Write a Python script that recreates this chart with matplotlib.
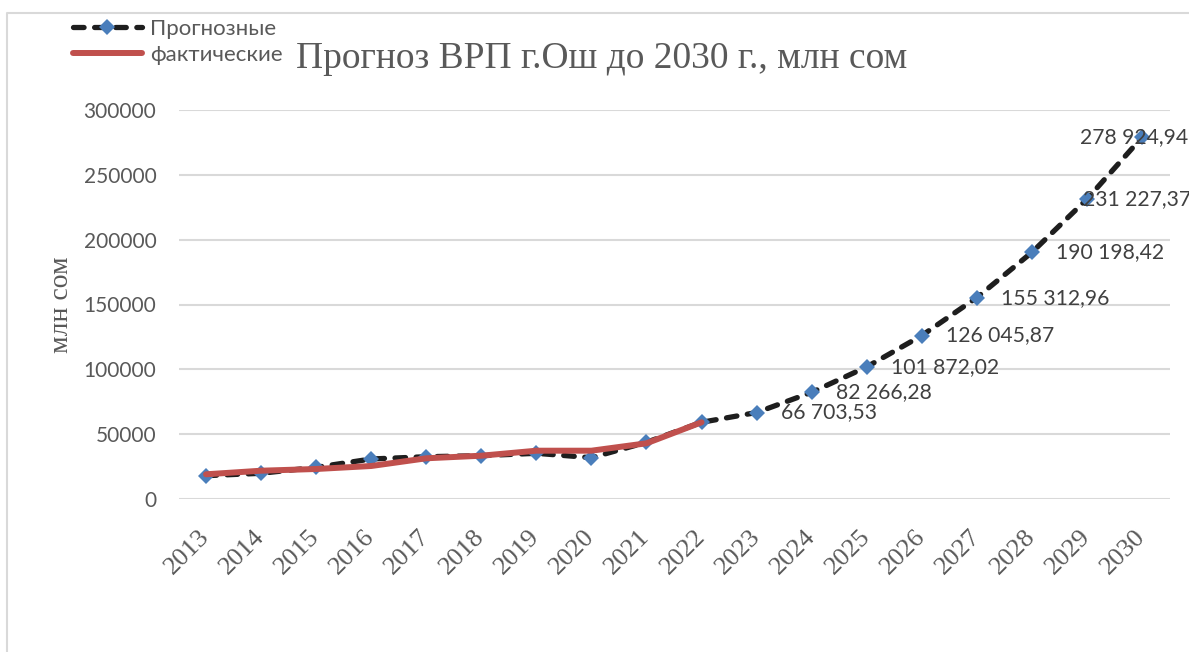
import matplotlib
matplotlib.use("Agg")
import matplotlib.pyplot as plt
from matplotlib.lines import Line2D

# data
years = ["2013", "2014", "2015", "2016", "2017", "2018", "2019", "2020", "2021",
         "2022", "2023", "2024", "2025", "2026", "2027", "2028", "2029", "2030"]
forecast = [17970, 19820, 24450, 30850, 32620, 33390, 35240, 31850, 43730,
            59150, 66703.53, 82266.28, 101872.02, 126045.87, 155312.96,
            190198.42, 231227.37, 278924.94]
actual_years = years[:10]
actual = [19050, 21820, 23140, 25450, 31390, 33390, 37250, 37250, 42960, 59150]
labelled_years = years[10:]
label_texts = ["66 703,53", "82 266,28", "101 872,02", "126 045,87",
               "155 312,96", "190 198,42", "231 227,37", "278 924,94"]
yticks = [0, 50000, 100000, 150000, 200000, 250000, 300000]

BLUE = "#4a7ebb"
RED = "#c0504d"
DARK = "#1e1e1e"
GRID = "#d9d9d9"
TXT = "#595959"

fig = plt.figure(figsize=(11.89, 6.52), dpi=100)
ax = fig.add_axes([178.5 / 1189, 1 - 499 / 652, (1169.5 - 178.5) / 1189, (499 - 110) / 652])

x = list(range(len(years)))
xa = list(range(len(actual_years)))

fc_line, = ax.plot(x, forecast, color=DARK, lw=3.8, dashes=(2.0, 2.0),
                   dash_capstyle="round", marker="D", ms=8.4, mfc=BLUE, mec=BLUE,
                   mew=0, zorder=3, label="Прогнозные")
fc_line.set_clip_on(False)
act_line, = ax.plot(xa, actual, color=RED, lw=4.3, solid_capstyle="round",
                    zorder=4, label="фактические")

# value labels to the right of the forecast points (last ones pulled in like Excel does)
label_dx = [24, 24, 24, 24, 24, 24, -4, -62]
for yr, txt, dx in zip(labelled_years, label_texts, label_dx):
    i = years.index(yr)
    ax.annotate(txt, (i, forecast[i]), xytext=(dx * 0.72, 0), textcoords="offset points",
                ha="left", va="center", fontsize=15.2, family="Lato", color="#404040",
                zorder=5, annotation_clip=False)

ax.set_xlim(-0.5, len(years) - 0.5)
ax.set_ylim(0, 300000)
ax.set_yticks(yticks)
ax.set_yticklabels([str(v) for v in yticks], family="Lato", fontsize=15, color=TXT)
ax.set_xticks(x)
ax.set_xticklabels(years, family="Liberation Serif", fontsize=19, color=TXT,
                   rotation=45, ha="right", va="center", rotation_mode="anchor")
ax.tick_params(axis="both", length=0)
ax.tick_params(axis="y", pad=16)
ax.tick_params(axis="x", pad=25)
ax.grid(axis="y", color=GRID, lw=1.5)
ax.set_axisbelow(True)
for s in ax.spines.values():
    s.set_visible(False)

fig.text(62 / 1189, 1 - 305 / 652, "млн сом", rotation=90, ha="center", va="center",
         family="Liberation Serif", fontsize=20, color=TXT)
fig.text(602 / 1189, 1 - 68 / 652, "Прогноз ВРП г.Ош до 2030 г., млн сом",
         ha="center", va="baseline", family="Liberation Serif", fontsize=27, color=TXT)

fig.legend([fc_line, act_line], ["Прогнозные", "фактические"], loc="upper left",
           bbox_to_anchor=(73 / 1189, 1 - 19 / 652), frameon=False, numpoints=1,
           prop={"family": "Lato", "size": 16}, labelcolor=TXT, handlelength=3.1,
           handletextpad=0.35, borderpad=0, borderaxespad=0, labelspacing=0.25)

# chart-area border (only top and left edges visible in the crop)
fig.add_artist(Line2D([7 / 1189, 7 / 1189, 1], [0, 1 - 13 / 652, 1 - 13 / 652],
                      transform=fig.transFigure, color=GRID, lw=1.5))

fig.savefig("out.png", dpi=100)
